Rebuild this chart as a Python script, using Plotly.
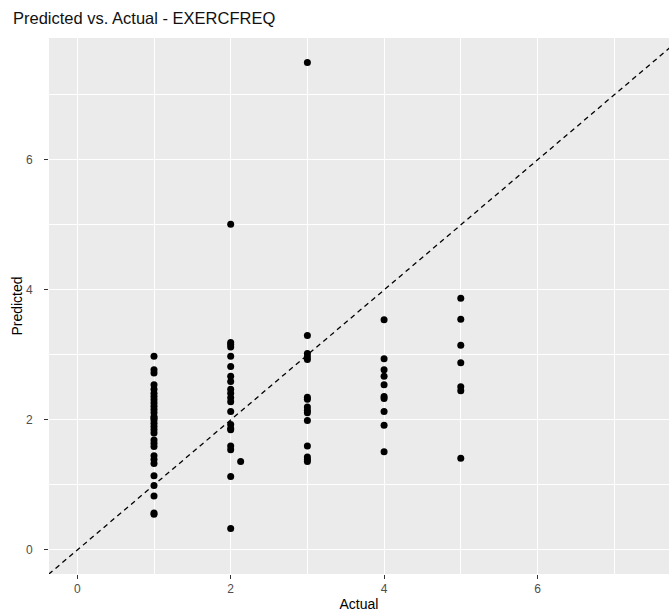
import plotly.graph_objects as go

# Actual (x) and Predicted (y) values
actual_1 = [1] * 30
pred_1 = [2.98, 2.77, 2.72, 2.54, 2.47, 2.41, 2.36, 2.31, 2.26, 2.21, 2.16, 2.11,
          2.05, 2.00, 1.95, 1.90, 1.85, 1.80, 1.69, 1.64, 1.59, 1.45, 1.39, 1.33,
          1.14, 0.99, 0.83, 0.57, 0.55, 2.03]
actual_2 = [2] * 20 + [2.13]
pred_2 = [5.01, 3.19, 3.16, 3.12, 2.98, 2.82, 2.67, 2.59, 2.47, 2.41, 2.34, 2.28,
          2.13, 1.93, 1.87, 1.85, 1.60, 1.54, 1.13, 0.33, 1.36]
actual_3 = [3] * 15
pred_3 = [7.50, 3.30, 3.02, 2.97, 2.93, 2.35, 2.32, 2.20, 2.15, 2.11, 1.99, 1.60,
          1.43, 1.39, 1.36]
actual_4 = [4] * 10
pred_4 = [3.54, 2.94, 2.77, 2.67, 2.54, 2.36, 2.33, 2.13, 1.92, 1.51]
actual_5 = [5] * 7
pred_5 = [3.87, 3.55, 3.15, 2.88, 2.51, 2.45, 1.41]

actual = actual_1 + actual_2 + actual_3 + actual_4 + actual_5
predicted = pred_1 + pred_2 + pred_3 + pred_4 + pred_5

ref_line = [-1, 10]
tick_vals = [0, 2, 4, 6]
tick_text = ["0", "2", "4", "6"]

FONT = "Liberation Sans, Arial, sans-serif"

fig = go.Figure()
fig.add_trace(go.Scatter(
    x=ref_line, y=ref_line, mode="lines",
    line=dict(color="black", width=1.3, dash="5px,4px"),
    hoverinfo="skip", showlegend=False, cliponaxis=True))
fig.add_trace(go.Scatter(
    x=actual, y=predicted, mode="markers",
    marker=dict(color="black", size=7, line=dict(width=0)),
    showlegend=False))

axis_common = dict(
    showgrid=True, gridcolor="white", gridwidth=1.2,
    zeroline=False, showline=False,
    ticks="outside", ticklen=4, tickwidth=1.1, tickcolor="#333333",
    tickfont=dict(family=FONT, size=12, color="#4D4D4D"),
    tickvals=tick_vals, ticktext=tick_text,
    minor=dict(tickvals=[1, 3, 5, 7], showgrid=True, gridcolor="white",
               gridwidth=0.6, ticks=""),
)

fig.update_layout(
    width=669, height=615,
    margin=dict(l=49, r=0, t=38, b=41),
    paper_bgcolor="white", plot_bgcolor="#EBEBEB",
    title=dict(text="Predicted vs. Actual - EXERCFREQ", x=13 / 669, xanchor="left",
               y=1 - 18 / 615, yanchor="middle",
               font=dict(family=FONT, size=16.5, color="#111111")),
    xaxis=dict(range=[-0.369, 7.715],
               title=dict(text="Actual", standoff=3,
                          font=dict(family=FONT, size=14, color="black")),
               **axis_common),
    yaxis=dict(range=[-0.37, 7.875], ticklabelstandoff=9,
               title=dict(text="Predicted", standoff=0,
                          font=dict(family=FONT, size=14, color="black")),
               **axis_common),
)

fig.write_html("out.html")
